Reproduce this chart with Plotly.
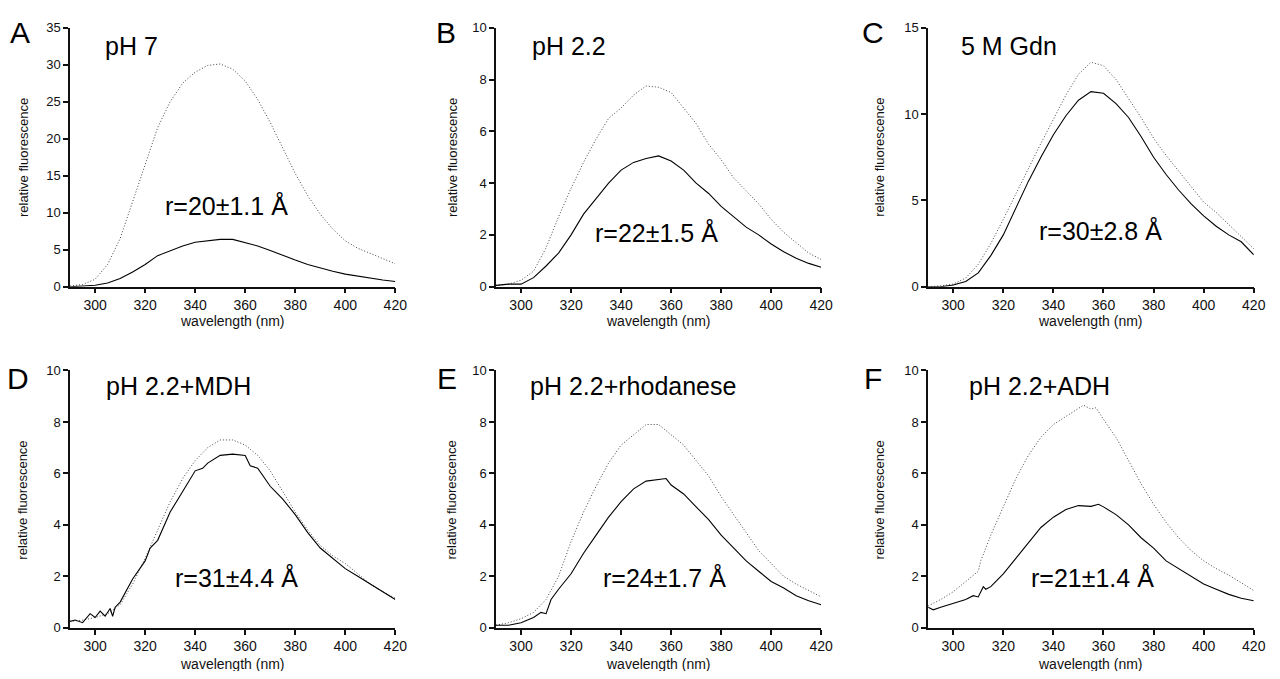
import plotly.graph_objects as go

# ---------------- data ----------------
wl = [290, 295, 300, 305, 310, 315, 320, 325, 330, 335, 340, 345, 350, 355,
      360, 365, 370, 375, 380, 385, 390, 395, 400, 405, 410, 415, 420]

# A: pH 7
a_dot = [0.1, 0.3, 1.0, 3.0, 6.5, 11.5, 16.8, 21.5, 25.0, 27.5, 29.0, 29.9, 30.1, 29.4,
         27.8, 25.3, 22.2, 18.8, 15.3, 12.3, 9.8, 7.8, 6.2, 5.2, 4.5, 3.8, 3.1]
a_sol = [0.0, 0.1, 0.2, 0.5, 1.1, 2.0, 3.0, 4.2, 4.9, 5.5, 6.0, 6.2, 6.4, 6.4,
         6.0, 5.5, 4.9, 4.2, 3.6, 3.0, 2.5, 2.1, 1.7, 1.4, 1.1, 0.9, 0.7]

# B: pH 2.2
b_dot = [0.05, 0.1, 0.25, 0.6, 1.5, 2.7, 3.8, 4.8, 5.7, 6.5, 6.9, 7.4, 7.75, 7.7,
         7.5, 6.9, 6.3, 5.5, 4.9, 4.2, 3.7, 3.2, 2.6, 2.1, 1.7, 1.3, 1.05]
b_sol = [0.05, 0.1, 0.1, 0.35, 0.8, 1.3, 2.0, 2.8, 3.4, 4.0, 4.5, 4.8, 4.95, 5.05,
         4.85, 4.5, 4.0, 3.6, 3.1, 2.7, 2.3, 2.0, 1.65, 1.35, 1.1, 0.9, 0.75]

# C: 5 M Gdn
c_dot = [0.0, 0.05, 0.15, 0.5, 1.3, 2.5, 3.9, 5.4, 6.8, 8.3, 9.7, 11.1, 12.3, 13.0,
         12.8, 12.0, 10.9, 9.8, 8.6, 7.6, 6.7, 5.8, 4.9, 4.3, 3.6, 2.9, 2.2]
c_sol = [0.0, 0.0, 0.1, 0.3, 0.8, 1.8, 3.0, 4.6, 6.1, 7.5, 8.8, 9.9, 10.8, 11.3,
         11.2, 10.6, 9.8, 8.7, 7.5, 6.5, 5.6, 4.8, 4.1, 3.5, 3.0, 2.6, 1.85]

# D: pH 2.2+MDH
d_dot = [0.25, 0.3, 0.4, 0.55, 0.9, 1.7, 2.7, 3.8, 4.9, 5.8, 6.5, 7.0, 7.3, 7.3,
         7.1, 6.7, 6.1, 5.3, 4.5, 3.8, 3.2, 2.8, 2.5, 2.1, 1.7, 1.4, 1.15]
wl_d_sol = [290, 292, 295, 298, 300, 302, 304, 306, 307, 308, 310, 315, 320, 322,
            325, 330, 335, 340, 343, 345, 350, 355, 360, 362, 365, 368, 370, 372,
            375, 380, 385, 390, 395, 400, 405, 410, 415, 420]
d_sol = [0.25, 0.3, 0.2, 0.55, 0.4, 0.65, 0.45, 0.75, 0.45, 0.8, 1.0, 1.9, 2.6, 3.1,
         3.4, 4.5, 5.3, 6.1, 6.2, 6.4, 6.7, 6.75, 6.7, 6.3, 6.2, 5.8, 5.5, 5.3,
         5.0, 4.4, 3.7, 3.1, 2.7, 2.3, 2.0, 1.7, 1.4, 1.1]

# E: pH 2.2+rhodanese
e_dot = [0.1, 0.2, 0.35, 0.6, 1.1, 2.0, 3.35, 4.5, 5.5, 6.4, 7.1, 7.5, 7.9, 7.9,
         7.5, 7.1, 6.5, 5.9, 5.1, 4.4, 3.7, 3.0, 2.5, 2.0, 1.7, 1.45, 1.2]
wl_e_sol = [290, 295, 300, 305, 308, 310, 312, 315, 320, 325, 330, 335, 340, 345,
            350, 355, 358, 360, 365, 370, 375, 380, 385, 390, 395, 400, 405, 410,
            415, 420]
e_sol = [0.1, 0.1, 0.2, 0.4, 0.6, 0.55, 1.1, 1.5, 2.1, 2.9, 3.6, 4.3, 4.9, 5.4,
         5.7, 5.75, 5.8, 5.55, 5.2, 4.7, 4.2, 3.6, 3.1, 2.6, 2.2, 1.8, 1.55, 1.25,
         1.05, 0.9]

# F: pH 2.2+ADH
wl_f_dot = [290, 295, 300, 305, 310, 311, 315, 320, 325, 330, 335, 340, 345, 350,
            352, 355, 357, 360, 365, 370, 375, 380, 385, 390, 395, 400, 405, 410,
            415, 420]
f_dot = [0.85, 1.1, 1.4, 1.8, 2.2, 2.6, 3.6, 4.7, 5.8, 6.7, 7.4, 7.9, 8.2, 8.5,
         8.65, 8.5, 8.55, 8.1, 7.4, 6.5, 5.6, 4.8, 4.1, 3.5, 3.0, 2.6, 2.3, 2.05,
         1.75, 1.45]
wl_f_sol = [290, 292, 295, 300, 305, 308, 310, 312, 313, 315, 320, 325, 330, 335,
            340, 345, 350, 355, 358, 360, 365, 370, 375, 380, 385, 390, 395, 400,
            405, 410, 415, 420]
f_sol = [0.8, 0.7, 0.8, 0.95, 1.1, 1.25, 1.2, 1.6, 1.5, 1.6, 2.1, 2.7, 3.3, 3.9,
         4.3, 4.6, 4.75, 4.72, 4.8, 4.7, 4.4, 4.0, 3.5, 3.1, 2.6, 2.3, 2.0, 1.7,
         1.5, 1.3, 1.15, 1.05]

panel_letters = ["A", "B", "C", "D", "E", "F"]
panel_titles = ["pH 7", "pH 2.2", "5 M Gdn", "pH 2.2+MDH", "pH 2.2+rhodanese", "pH 2.2+ADH"]
r_labels = ["r=20±1.1 Å", "r=22±1.5 Å", "r=30±2.8 Å", "r=31±4.4 Å", "r=24±1.7 Å", "r=21±1.4 Å"]
y_max = [35, 10, 15, 10, 10, 10]
y_step = [5, 2, 5, 2, 2, 2]
x_ticks = [300, 320, 340, 360, 380, 400, 420]
x_title = "wavelength (nm)"
y_title = "relative fluorescence"

series = [
    (wl, a_dot, wl, a_sol),
    (wl, b_dot, wl, b_sol),
    (wl, c_dot, wl, c_sol),
    (wl, d_dot, wl_d_sol, d_sol),
    (wl, e_dot, wl_e_sol, e_sol),
    (wl_f_dot, f_dot, wl_f_sol, f_sol),
]

# ---------------- layout geometry (reference page pixels) ----------------
OFF = 8                      # page body margin in the browser
W, H = 1280 - 2 * OFF, 679 - 2 * OFF


def px(x):
    return (x - OFF) / W


def py(y):
    return 1 - (y - OFF) / H


col_px = [(70.7, 399.0), (500.7, 829.0), (937.0, 1265.7)]
row_px = [(21.0, 286.0), (371.7, 635.0)]

FONT = "Liberation Sans, Arial, Helvetica, sans-serif"
INK = "#111111"

letter_pos = [(20.5, 25.7), (450, 25.7), (881.7, 25.7), (18.3, 380), (451.7, 380), (881.7, 380)]
title_pos = [(132.7, 40), (574.7, 40), (1018.7, 40), (180, 388), (639.2, 388), (1049.2, 388)]
r_pos = [(229, 203), (662.5, 231), (1110.8, 228), (238.3, 584), (670.5, 584), (1103.3, 584)]
ytitle_x = [23, 456, 888]
ytitle_y = [153.5, 504]
xtitle_y = [321, 671.7]

fig = go.Figure()
annotations = []
layout_axes = {}

for i in range(6):
    r, c = divmod(i, 3)
    n = i + 1
    xa = "x" if n == 1 else f"x{n}"
    ya = "y" if n == 1 else f"y{n}"
    xd, yd, xs, ys = series[i]
    fig.add_trace(go.Scatter(x=xd, y=yd, mode="lines", xaxis=xa, yaxis=ya,
                             line=dict(color="#444444", width=1, dash="1px,2px"),
                             showlegend=False, hoverinfo="skip"))
    fig.add_trace(go.Scatter(x=xs, y=ys, mode="lines", xaxis=xa, yaxis=ya,
                             line=dict(color="#000000", width=1.1),
                             showlegend=False, hoverinfo="skip"))
    x0, x1 = col_px[c]
    y0, y1 = row_px[r]
    xkey = "xaxis" if n == 1 else f"xaxis{n}"
    ykey = "yaxis" if n == 1 else f"yaxis{n}"
    layout_axes[xkey] = dict(
        domain=[px(x0), px(x1)], anchor=ya, range=[290, 420],
        tickvals=x_ticks, ticks="outside", ticklen=5, tickwidth=1.5,
        tickcolor=INK, showline=True, linecolor=INK, linewidth=1.5,
        showgrid=False, zeroline=False,
        tickfont=dict(family=FONT, size=14, color=INK),
    )
    layout_axes[ykey] = dict(
        domain=[py(y1), py(y0)], anchor=xa, range=[0, y_max[i]],
        dtick=y_step[i], tick0=0, ticks="outside", ticklen=5, tickwidth=1.5,
        tickcolor=INK, showline=True, linecolor=INK, linewidth=1.5,
        showgrid=False, zeroline=False,
        tickfont=dict(family=FONT, size=13, color=INK),
    )
    lx, ly = letter_pos[i]
    annotations.append(dict(text=panel_letters[i], x=px(lx), y=py(ly),
                            xref="paper", yref="paper", showarrow=False,
                            xanchor="center", yanchor="middle",
                            font=dict(family=FONT, size=30, color="#000")))
    tx, ty = title_pos[i]
    annotations.append(dict(text=panel_titles[i], x=px(tx), y=py(ty),
                            xref="paper", yref="paper", showarrow=False,
                            xanchor="center", yanchor="middle",
                            font=dict(family=FONT, size=25, color="#000")))
    rx, ry = r_pos[i]
    annotations.append(dict(text=r_labels[i], x=px(rx), y=py(ry),
                            xref="paper", yref="paper", showarrow=False,
                            xanchor="center", yanchor="middle",
                            font=dict(family=FONT, size=25, color="#000")))
    annotations.append(dict(text=y_title, x=px(ytitle_x[c]), y=py(ytitle_y[r]),
                            xref="paper", yref="paper", showarrow=False,
                            textangle=-90, xanchor="center", yanchor="middle",
                            font=dict(family=FONT, size=13, color=INK)))
    annotations.append(dict(text=x_title, x=px((x0 + x1) / 2), y=py(xtitle_y[r]),
                            xref="paper", yref="paper", showarrow=False,
                            xanchor="center", yanchor="middle",
                            font=dict(family=FONT, size=14, color=INK)))

fig.update_layout(
    width=W, height=H,
    margin=dict(l=0, r=0, t=0, b=0),
    paper_bgcolor="white", plot_bgcolor="white",
    annotations=annotations,
    **layout_axes,
)

fig.write_html("out.html")
